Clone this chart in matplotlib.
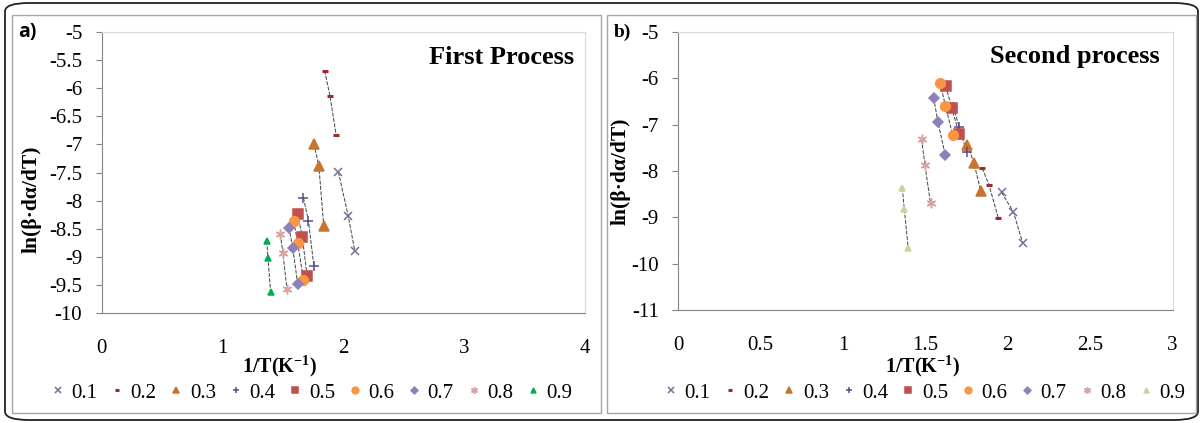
import matplotlib
matplotlib.use("Agg")
import matplotlib.pyplot as plt
from matplotlib.patches import FancyBboxPatch, Rectangle

plt.rcParams['font.family'] = ['Liberation Serif', 'DejaVu Serif']
plt.rcParams['mathtext.fontset'] = 'custom'
plt.rcParams['mathtext.rm'] = 'Liberation Serif'
plt.rcParams['mathtext.bf'] = 'Liberation Serif:bold'

# conversion levels (legend entries)
alphas = ['0.1', '0.2', '0.3', '0.4', '0.5', '0.6', '0.7', '0.8', '0.9']

# first process: 1/T and ln(beta*da/dT), three heating rates per conversion
first_x = [[1.959, 2.040, 2.095],
           [1.845, 1.889, 1.940],
           [1.756, 1.797, 1.838],
           [1.670, 1.711, 1.756],
           [1.622, 1.660, 1.700],
           [1.590, 1.622, 1.670],
           [1.550, 1.581, 1.622],
           [1.479, 1.500, 1.533],
           [1.366, 1.376, 1.398]]
first_y = [[-7.49, -8.27, -8.90],
           [-5.69, -6.13, -6.83],
           [-6.99, -7.38, -8.46],
           [-7.95, -8.36, -9.16],
           [-8.24, -8.64, -9.34],
           [-8.37, -8.75, -9.41],
           [-8.48, -8.84, -9.48],
           [-8.60, -8.94, -9.57],
           [-8.72, -9.02, -9.63]]

# second process
second_x = [[1.962, 2.034, 2.091],
            [1.845, 1.886, 1.942],
            [1.755, 1.794, 1.836],
            [1.668, 1.705, 1.751],
            [1.624, 1.659, 1.705],
            [1.588, 1.622, 1.665],
            [1.550, 1.576, 1.620],
            [1.477, 1.497, 1.531],
            [1.360, 1.372, 1.396]]
second_y = [[-8.46, -8.88, -9.56],
            [-7.94, -8.30, -9.01],
            [-7.43, -7.82, -8.43],
            [-6.61, -7.04, -7.60],
            [-6.17, -6.63, -7.20],
            [-6.10, -6.59, -7.22],
            [-6.42, -6.94, -7.65],
            [-7.32, -7.86, -8.70],
            [-8.37, -8.83, -9.67]]

first_ticks_x = [0, 1, 2, 3, 4]
first_ticks_y = [-5, -5.5, -6, -6.5, -7, -7.5, -8, -8.5, -9, -9.5, -10]
second_ticks_x = [0, 0.5, 1, 1.5, 2, 2.5, 3]
second_ticks_y = [-5, -6, -7, -8, -9, -10, -11]

# marker styles
markers = ['x', '_', '^', '+', 's', 'o', 'D', (6, 2, 0), '^']
sizes = [6, 5, 6.5, 7, 6.5, 7, 5, 7, 5]
colors_a = ['#7B6A9C', '#9E2A2F', '#C8742E', '#5E4A8E', '#C0504D',
            '#F79646', '#8E80BA', '#D9A3A3', '#00B050']
colors_b = colors_a[:8] + ['#C4D79B']


def fmt(v):
    return ('%g' % v)


fig = plt.figure(figsize=(12.02, 4.23), dpi=100)

# frames
fig.patches.append(FancyBboxPatch((5 / 1202, 3 / 423), 1193 / 1202, 417 / 423,
                                  boxstyle='round,pad=0,rounding_size=0.02',
                                  transform=fig.transFigure, fill=False,
                                  ec='#222222', lw=1.3))
fig.patches.append(Rectangle((12 / 1202, 10 / 423), 589 / 1202, 398 / 423,
                             transform=fig.transFigure, fill=False, ec='#A6A6A6', lw=1))
fig.patches.append(Rectangle((607 / 1202, 10 / 423), 589 / 1202, 398 / 423,
                             transform=fig.transFigure, fill=False, ec='#A6A6A6', lw=1))

ax1 = fig.add_axes([101.7 / 1202, 110 / 423, 483.3 / 1202, 281 / 423])
ax2 = fig.add_axes([678.3 / 1202, 113 / 423, 494.2 / 1202, 278 / 423])

panels = [(ax1, first_x, first_y, colors_a, first_ticks_x, first_ticks_y, (0, 4), (-10, -5)),
          (ax2, second_x, second_y, colors_b, second_ticks_x, second_ticks_y, (0, 3), (-11, -5))]

for ax, xs, ys, cols, tx, ty, xl, yl in panels:
    handles = []
    for i in range(len(alphas)):
        ax.plot(xs[i], ys[i], color='#404040', lw=0.7, ls=(0, (4, 1.5)), zorder=2)
        h, = ax.plot(xs[i], ys[i], ls='none', marker=markers[i], ms=sizes[i],
                     color=cols[i], mec=cols[i], mew=2.2 if markers[i] == '_' else 1.1,
                     label=alphas[i], zorder=3)
        handles.append(h)
    ax.set_xlim(*xl)
    ax.set_ylim(*yl)
    ax.set_xticks(tx)
    ax.set_xticklabels([fmt(v) for v in tx], fontfamily='Liberation Serif')
    ax.set_yticks(ty)
    ax.set_yticklabels([fmt(v) for v in ty], fontfamily='Liberation Serif')
    ax.tick_params(axis='x', length=0, pad=19, labelsize=15)
    ax.tick_params(axis='y', length=4, width=0.8, color='#868686', pad=10, labelsize=15)
    for s in ['left', 'bottom']:
        ax.spines[s].set_color('#868686')
    for s in ['top', 'right']:
        ax.spines[s].set_color('#D9D9D9')
    ax.legend(handles=handles, loc='center', ncol=9, frameon=False,
              bbox_to_anchor=(0.5, 0), bbox_transform=ax.transAxes,
              fontsize=15, markerscale=0.7, handlelength=0.6, handletextpad=0.35,
              columnspacing=0.65)

ax1.set_ylabel('ln(β·dα/dT)', fontsize=15.5, fontweight='bold')
ax2.set_ylabel('ln(β·dα/dT)', fontsize=15.5, fontweight='bold')
ax1.yaxis.set_label_coords(-0.124, 0.406)
ax2.yaxis.set_label_coords(-0.096, 0.5)

# legends placed in figure coordinates as in the reference
ax1.get_legend().set_bbox_to_anchor((312 / 1202, 30 / 423), transform=fig.transFigure)
ax2.get_legend().set_bbox_to_anchor((925 / 1202, 30 / 423), transform=fig.transFigure)

fig.text(279 / 1202, 1 - 366 / 423, '1/T(K$^{\\mathbf{-1}}$)', fontsize=14.5,
         fontweight='bold', ha='center', va='center')
fig.text(922 / 1202, 1 - 366 / 423, '1/T(K$^{\\mathbf{-1}}$)', fontsize=14.5,
         fontweight='bold', ha='center', va='center')

fig.text(574 / 1202, 1 - 57 / 423, 'First Process', fontsize=19,
         fontweight='bold', ha='right', va='center')
fig.text(1160 / 1202, 1 - 57 / 423, 'Second process', fontsize=19,
         fontweight='bold', ha='right', va='center')

fig.text(18 / 1202, 1 - 32 / 423, 'a)', fontsize=14, fontweight='bold',
         family=['Open Sans', 'DejaVu Sans'], ha='left', va='center')
fig.text(614 / 1202, 1 - 32 / 423, 'b)', fontsize=14, fontweight='bold',
         ha='left', va='center')

fig.savefig('out.png', dpi=100)
